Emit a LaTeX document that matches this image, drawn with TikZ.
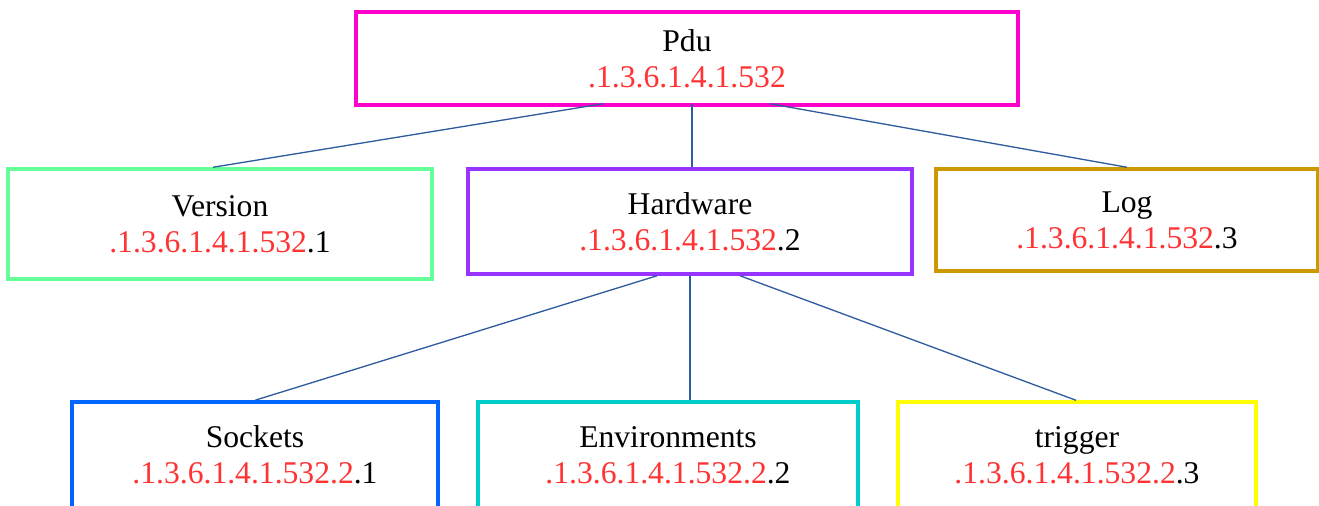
\documentclass[tikz,border=0pt]{standalone}
\usepackage{fontspec}
\setmainfont{Liberation Serif}
\usetikzlibrary{calc}

\definecolor{oidred}{HTML}{FF3333}
\definecolor{linkblue}{HTML}{2E5C9E}
\definecolor{pducol}{HTML}{FF00CC}
\definecolor{vercol}{HTML}{66FF99}
\definecolor{hwcol}{HTML}{9933FF}
\definecolor{logcol}{HTML}{CC9900}
\definecolor{sockcol}{HTML}{0066FF}
\definecolor{envcol}{HTML}{00CCCC}
\definecolor{trigcol}{HTML}{FFFF00}

\newcommand{\oidpart}[1]{\textcolor{oidred}{#1}}

\begin{document}
\begin{tikzpicture}[
    x=0.02cm, y=-0.02cm,
    box/.style={
        draw,
        line width=0.07cm,
        align=center,
        inner sep=2pt,
        font=\fontsize{18}{20.5}\selectfont
    },
    link/.style={draw=linkblue, line width=0.75pt}
]
\useasboundingbox (0,0) rectangle (1319,505);

\node[box, draw=pducol, minimum width=13.24cm, minimum height=1.86cm] (pdu) at (687,58.5)
    {Pdu\\\oidpart{.1.3.6.1.4.1.532}};
\node[box, draw=vercol, minimum width=8.48cm, minimum height=2.2cm] (version) at (220,224)
    {Version\\\oidpart{.1.3.6.1.4.1.532}.1};
\node[box, draw=hwcol, minimum width=8.88cm, minimum height=2.1cm] (hardware) at (690,221.5)
    {Hardware\\\oidpart{.1.3.6.1.4.1.532}.2};
\node[box, draw=logcol, minimum width=7.64cm, minimum height=2.04cm] (log) at (1127,220)
    {Log\\\oidpart{.1.3.6.1.4.1.532}.3};
\node[box, draw=sockcol, minimum width=7.32cm, minimum height=2.12cm] (sockets) at (255,455)
    {Sockets\\\oidpart{.1.3.6.1.4.1.532.2}.1};
\node[box, draw=envcol, minimum width=7.6cm, minimum height=2.12cm] (envs) at (668,455)
    {Environments\\\oidpart{.1.3.6.1.4.1.532.2}.2};
\node[box, draw=trigcol, minimum width=7.16cm, minimum height=2.12cm] (trigger) at (1077,455)
    {trigger\\\oidpart{.1.3.6.1.4.1.532.2}.3};

% first level
\draw[link] ($(pdu.south)+(-84,-3)$) -- ($(version.north)+(-7,0)$);
\draw[link] ($(pdu.south)+(5,-3)$) -- ($(hardware.north)+(2,0)$);
\draw[link] ($(pdu.south)+(83,-3)$) -- (log.north);

% hardware children
\draw[link] ($(hardware.south)+(-33,0)$) -- (sockets.north);
\draw[link] (hardware.south) -- ($(envs.north)+(22,0)$);
\draw[link] ($(hardware.south)+(50,0)$) -- ($(trigger.north)+(-1,0)$);
\end{tikzpicture}
\end{document}
